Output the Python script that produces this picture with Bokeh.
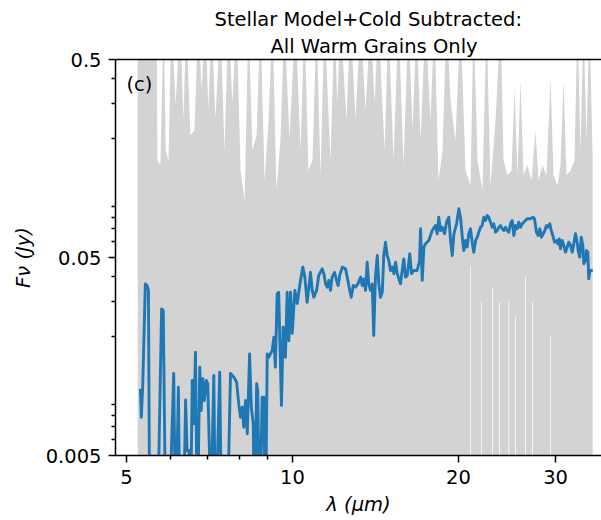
from bokeh.plotting import figure
from bokeh.models import Range1d, FixedTicker, LogAxis, Label, Title
from bokeh.embed import file_html
from bokeh.resources import INLINE

# ---- blue spectrum (wavelength in micron, flux in Jy) ----
wavelength = [
    5.30, 5.32, 5.35, 5.41, 5.45, 5.48, 5.51, 5.60, 5.69, 5.79,
    5.83, 5.89, 5.97, 6.09, 6.14, 6.21, 6.25, 6.34, 6.40, 6.44,
    6.49, 6.53, 6.58, 6.62, 6.67, 6.72, 6.79, 6.83, 6.88, 6.92,
    6.98, 7.02, 7.07, 7.10, 7.20, 7.25, 7.38, 7.44, 7.61, 7.72,
    7.83, 7.92, 7.99, 8.05, 8.11, 8.16, 8.22, 8.28, 8.36, 8.42,
    8.49, 8.53, 8.61, 8.65, 8.72, 8.81, 8.87, 8.93, 9.00, 9.06,
    9.12, 9.19, 9.25, 9.31, 9.38, 9.44, 9.55, 9.62, 9.71, 9.78,
    9.85, 9.92, 9.99, 10.10, 10.20, 10.34, 10.44, 10.53, 10.63, 10.71,
    10.78, 10.86, 10.93, 11.06, 11.16, 11.32, 11.40, 11.48, 11.56, 11.64,
    11.72, 11.80, 11.92, 12.02, 12.10, 12.18, 12.31, 12.48, 12.57, 12.65,
    12.78, 12.89, 13.01, 13.14, 13.29, 13.38, 13.47, 13.57, 13.66, 13.75,
    13.85, 13.95, 14.04, 14.14, 14.25, 14.34, 14.44, 14.55, 14.64, 14.75,
    14.85, 14.95, 15.06, 15.17, 15.27, 15.38, 15.49, 15.59, 15.70, 15.81,
    15.92, 16.03, 16.15, 16.32, 16.44, 16.60, 16.83, 17.00, 17.07, 17.19,
    17.31, 17.43, 17.67, 17.92, 18.17, 18.30, 18.42, 18.56, 18.69, 18.87,
    19.03, 19.21, 19.35, 19.49, 19.62, 19.84, 20.03, 20.17, 20.32, 20.45,
    20.60, 20.74, 20.88, 21.03, 21.18, 21.32, 21.48, 21.63, 21.77, 21.93,
    22.08, 22.23, 22.39, 22.55, 22.70, 22.86, 23.03, 23.18, 23.35, 23.51,
    23.67, 23.84, 24.01, 24.17, 24.34, 24.51, 24.68, 24.85, 25.03, 25.20,
    25.38, 25.56, 25.73, 25.91, 26.10, 26.27, 26.46, 26.65, 26.83, 27.02,
    27.32, 27.47, 27.70, 27.90, 28.09, 28.29, 28.49, 28.68, 28.88, 29.04,
    29.28, 29.46, 29.65, 29.87, 30.12, 30.28, 30.46, 30.62, 30.84, 31.05,
    31.27, 31.49, 31.70, 31.93, 32.16, 32.37, 32.60, 32.83, 32.97, 33.19,
    33.39, 33.61, 33.75, 33.99, 34.13, 34.32, 34.46, 34.61, 34.81, 35.04,
]
flux = [
    0.01086, 0.00780, 0.01107, 0.0368, 0.0361, 0.0341, 0.002, 0.002, 0.002, 0.0275,
    0.0270, 0.002, 0.002, 0.0130, 0.002, 0.01107, 0.002, 0.002, 0.00955, 0.00530,
    0.00530, 0.002, 0.01196, 0.00723, 0.01662, 0.002, 0.01396, 0.00844, 0.01220, 0.00948,
    0.01196, 0.01151, 0.00530, 0.002, 0.01268, 0.002, 0.01317, 0.002, 0.002, 0.0130,
    0.01243, 0.01173, 0.00912, 0.00780, 0.00877, 0.00695, 0.00948, 0.00644, 0.01631, 0.00877,
    0.00723, 0.002, 0.01151, 0.01065, 0.002, 0.00985, 0.00985, 0.002, 0.01631, 0.01568,
    0.01631, 0.01696, 0.01979, 0.01396, 0.0328, 0.0334, 0.00894, 0.0222, 0.01568, 0.0334,
    0.0190, 0.0334, 0.0207, 0.0341, 0.0293, 0.0383, 0.0447, 0.0398, 0.0297, 0.0354,
    0.0421, 0.0341, 0.0315, 0.0341, 0.0406, 0.0438, 0.0414, 0.0368, 0.0354, 0.0383,
    0.0341, 0.0398, 0.0421, 0.0383, 0.0361, 0.0406, 0.0447, 0.0438, 0.0398, 0.0361,
    0.0315, 0.0361, 0.0354, 0.0368, 0.0398, 0.0361, 0.0390, 0.0341, 0.0473, 0.0368,
    0.0341, 0.0368, 0.0202, 0.0398, 0.0512, 0.0368, 0.0315, 0.0334, 0.0512, 0.0597,
    0.0512, 0.0483, 0.0430, 0.0447, 0.0414, 0.0473, 0.0414, 0.0390, 0.0368, 0.0430,
    0.0492, 0.0398, 0.0406, 0.0522, 0.0414, 0.0430, 0.0430, 0.0483, 0.0698, 0.0383,
    0.0564, 0.0586, 0.0609, 0.0684, 0.0725, 0.0659, 0.0799, 0.0684, 0.0711, 0.0659,
    0.0754, 0.0799, 0.0609, 0.0512, 0.0659, 0.0740, 0.0881, 0.0799, 0.0633, 0.0542,
    0.0609, 0.0564, 0.0659, 0.0698, 0.0597, 0.0532, 0.0609, 0.0633, 0.0671, 0.0711,
    0.0725, 0.0799, 0.0769, 0.0815, 0.0799, 0.0754, 0.0711, 0.0740, 0.0671, 0.0684,
    0.0711, 0.0725, 0.0698, 0.0684, 0.0711, 0.0684, 0.0671, 0.0740, 0.0769, 0.0646,
    0.0725, 0.0698, 0.0754, 0.0711, 0.0740, 0.0754, 0.0769, 0.0784, 0.0784, 0.0784,
    0.0799, 0.0784, 0.0671, 0.0646, 0.0698, 0.0633, 0.0659, 0.0684, 0.0725, 0.0711,
    0.0740, 0.0684, 0.0646, 0.0597, 0.0609, 0.0586, 0.0621, 0.0553, 0.0609, 0.0575,
    0.0532, 0.0564, 0.0597, 0.0575, 0.0532, 0.0586, 0.0659, 0.0597, 0.0542, 0.0502,
    0.0633, 0.0575, 0.0465, 0.0483, 0.0542, 0.0532, 0.0390, 0.0430, 0.0430, 0.0430,
]

# ---- grey ensemble of individual spectra: upper envelope (lower edge is off-chart) ----
grey_wl = [
    5.24, 5.30, 5.53, 5.67, 5.69, 5.76, 5.84, 5.89, 5.96, 6.03,
    6.14, 6.26, 6.34, 6.42, 6.53, 6.64, 6.75, 6.84, 6.95, 7.04,
    7.13, 7.25, 7.40, 7.53, 7.65, 7.78, 7.92, 8.05, 8.19, 8.32,
    8.46, 8.61, 8.75, 8.90, 9.05, 9.20, 9.35, 9.51, 9.67, 9.875,
    10.13, 10.34, 10.51, 10.69, 10.87, 11.06, 11.24, 11.43, 11.72, 11.92,
    12.06, 12.22, 12.53, 12.74, 13.01, 13.29, 13.57, 13.85, 14.09, 14.32,
    14.69, 14.93, 15.25, 15.57, 15.90, 16.23, 16.51, 16.79, 17.07, 17.43,
    17.79, 18.09, 18.40, 18.71, 19.03, 19.35, 19.75, 20.17, 20.60, 21.03,
    21.30, 21.66, 22.11, 22.49, 22.86, 23.35, 23.84, 24.14, 24.55, 24.96,
    25.27, 25.59, 25.91, 26.24, 26.68, 27.13, 27.59, 27.93, 28.41, 28.88,
    29.37, 29.74, 30.24, 30.62, 31.01, 31.40, 31.93, 32.46, 32.87, 33.29,
    33.71, 34.13, 34.56, 35.02,
]
grey_top = [
    0.8, 0.8, 0.8, 0.8, 0.1545, 0.146, 0.8, 0.1735, 0.1545, 0.8,
    0.30, 0.8, 0.246, 0.8, 0.207, 0.219, 0.8, 0.35, 0.8, 0.276,
    0.8, 0.25, 0.8, 0.1735, 0.8, 0.30, 0.8, 0.1375, 0.097, 0.8,
    0.1735, 0.207, 0.8, 0.122, 0.246, 0.8, 0.109, 0.195, 0.8, 0.20,
    0.8, 0.1735, 0.8, 0.1375, 0.1545, 0.8, 0.130, 0.8, 0.1545, 0.8,
    0.30, 0.8, 0.246, 0.8, 0.25, 0.8, 0.276, 0.8, 0.30, 0.8,
    0.1735, 0.8, 0.1545, 0.8, 0.146, 0.8, 0.219, 0.8, 0.195, 0.8,
    0.246, 0.8, 0.122, 0.1735, 0.8, 0.310, 0.195, 0.8, 0.1375, 0.1155,
    0.8, 0.1545, 0.109, 0.8, 0.1155, 0.246, 0.8, 0.1545, 0.130, 0.1375,
    0.357, 0.130, 0.392, 0.130, 0.146, 0.122, 0.219, 0.122, 0.146, 0.130,
    0.401, 0.130, 0.1155, 0.146, 0.392, 0.130, 0.1375, 0.1545, 0.8, 0.1735,
    0.8, 0.195, 0.8, 0.1637,
]
grey_floor = 0.001

# thin gaps in the grey ensemble near the bottom
gap_wl = [21.03, 22.02, 23.06, 23.74, 24.68, 25.38, 26.46, 27.24, 29.37]
gap_top = [0.045, 0.030, 0.035, 0.030, 0.030, 0.025, 0.040, 0.030, 0.020]

x_ticks = [5, 10, 20, 30]
x_tick_labels = ["5", "10", "20", "30"]
x_minor = [6, 7, 8, 9]
y_ticks = [0.005, 0.05, 0.5]
y_tick_labels = ["0.005", "0.05", "0.5"]
y_minor = [0.006, 0.007, 0.008, 0.009, 0.02, 0.03, 0.04, 0.06, 0.07, 0.08, 0.09,
           0.2, 0.3, 0.4]

title_lines = ["Stellar Model+Cold Subtracted:", "All Warm Grains Only"]
panel_tag = "(c)"
x_label = "λ (μm)"
y_label = "Fν (Jy)"

FONT = "DejaVu Sans"
FS = "19.5px"

p = figure(width=601, height=520, x_axis_type="log", y_axis_type="log",
           x_range=Range1d(4.776, 36.34), y_range=Range1d(0.005, 0.5),
           output_backend="svg", toolbar_location=None, title=None,
           min_border_left=115, min_border_right=0,
           min_border_top=59, min_border_bottom=65)
p.outline_line_color = None
p.xgrid.grid_line_color = None
p.ygrid.grid_line_color = None
p.background_fill_color = "white"
p.border_fill_color = "white"

for ax in (p.xaxis[0], p.yaxis[0]):
    ax.axis_line_width = 1.5
    ax.axis_line_color = "black"
    ax.major_tick_line_width = 1.5
    ax.minor_tick_line_width = 1.5
    ax.major_tick_line_color = "black"
    ax.minor_tick_line_color = "black"
    ax.major_tick_out = 7
    ax.major_tick_in = 0
    ax.minor_tick_out = 4
    ax.minor_tick_in = 0
    ax.major_label_text_font = FONT
    ax.major_label_text_font_size = FS
    ax.major_label_text_color = "black"
    ax.major_label_standoff = 7
    ax.axis_label_text_font = FONT
    ax.axis_label_text_font_size = FS
    ax.axis_label_text_font_style = "italic"
    ax.axis_label_text_color = "black"

p.xaxis[0].ticker = FixedTicker(ticks=x_ticks, minor_ticks=x_minor)
p.xaxis[0].major_label_overrides = {t: l for t, l in zip(x_ticks, x_tick_labels)}
p.xaxis[0].axis_label = x_label
p.xaxis[0].axis_label_standoff = 6
p.yaxis[0].ticker = FixedTicker(ticks=y_ticks, minor_ticks=y_minor)
p.yaxis[0].major_label_overrides = {t: l for t, l in zip(y_ticks, y_tick_labels)}
p.yaxis[0].axis_label = y_label
p.yaxis[0].axis_label_standoff = 8

# top spine (no ticks)
top_axis = LogAxis(ticker=FixedTicker(ticks=[]), axis_line_width=1.5,
                   axis_line_color="black", major_tick_line_color=None,
                   minor_tick_line_color=None, major_tick_out=2, major_tick_in=0,
                   minor_tick_out=0, minor_tick_in=0, major_label_standoff=0,
                   major_label_text_font_size="0px")
p.add_layout(top_axis, "above")

# two-line title
t2 = Title(text=title_lines[1], align="left", offset=155, standoff=4,
           text_font=FONT, text_font_size=FS, text_font_style="normal",
           text_color="black")
t1 = Title(text=title_lines[0], align="left", offset=99, standoff=0,
           text_font=FONT, text_font_size=FS, text_font_style="normal",
           text_color="black")
p.add_layout(t2, "above")
p.add_layout(t1, "above")

# grey ensemble
p.varea(x=grey_wl, y1=grey_floor, y2=grey_top, fill_color="#d3d3d3", fill_alpha=1.0)
p.segment(x0=gap_wl, y0=grey_floor, x1=gap_wl, y1=gap_top,
          line_color="white", line_width=1, line_alpha=0.8)

# blue spectrum
p.line(wavelength, flux, line_color="#1f77b4", line_width=2.9, line_join="round")

# panel tag
p.add_layout(Label(x=5.0, y=0.3737, text=panel_tag, text_font=FONT, text_font_size=FS,
                   text_color="black", text_align="left", text_baseline="alphabetic"))

open("out.html", "w").write(file_html(p, INLINE))
